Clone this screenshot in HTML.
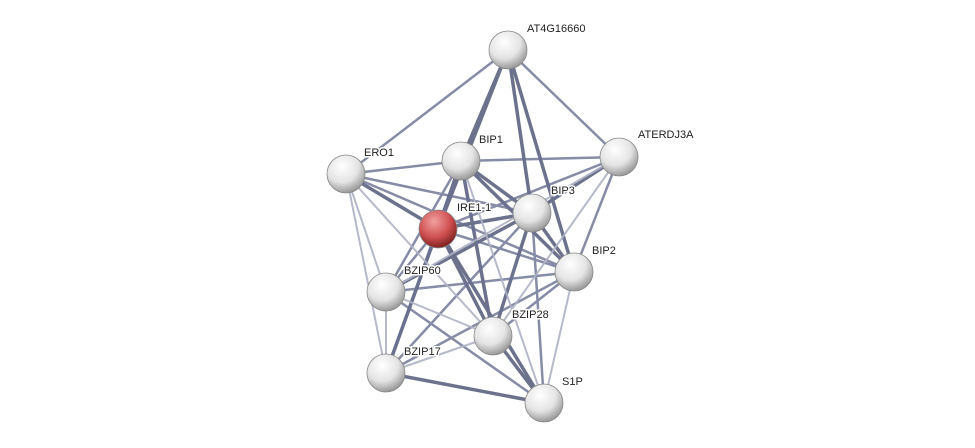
<!DOCTYPE html>
<html><head><meta charset="utf-8"><style>
html,body{margin:0;padding:0;background:#fff;width:975px;height:448px;overflow:hidden}
text{font-family:"Liberation Sans",sans-serif;font-size:11px;fill:#222;stroke:#fff;stroke-width:3px;paint-order:stroke;stroke-linejoin:round}
</style></head><body>
<svg width="975" height="448" xmlns="http://www.w3.org/2000/svg">
<defs>
<radialGradient id="g" cx="40%" cy="30%" r="70%">
<stop offset="0" stop-color="#ffffff"/><stop offset="0.6" stop-color="#e4e4e4"/><stop offset="1" stop-color="#9a9a9a"/>
</radialGradient>
<radialGradient id="r" cx="40%" cy="30%" r="70%">
<stop offset="0" stop-color="#f0a0a0"/><stop offset="0.6" stop-color="#d05050"/><stop offset="1" stop-color="#802020"/>
</radialGradient>
</defs>
<g stroke-linecap="round">
<g stroke="#5d6380" stroke-width="3.5" opacity="0.9">
<line x1="508" y1="50" x2="461" y2="161"/><line x1="508" y1="50" x2="438" y2="229"/><line x1="508" y1="50" x2="532" y2="213"/><line x1="508" y1="50" x2="574" y2="272"/>
<line x1="461" y1="161" x2="438" y2="229"/><line x1="461" y1="161" x2="532" y2="213"/><line x1="461" y1="161" x2="574" y2="272"/>
<line x1="532" y1="213" x2="438" y2="229"/><line x1="532" y1="213" x2="574" y2="272"/><line x1="438" y1="229" x2="386" y2="373"/>
<line x1="438" y1="229" x2="544" y2="403"/><line x1="438" y1="229" x2="493" y2="336"/><line x1="532" y1="213" x2="493" y2="336"/>
<line x1="346" y1="174" x2="438" y2="229"/><line x1="619" y1="157" x2="532" y2="213"/><line x1="386" y1="373" x2="544" y2="403"/>
<line x1="493" y1="336" x2="544" y2="403"/><line x1="532" y1="213" x2="386" y2="292"/><line x1="461" y1="161" x2="493" y2="336"/>
</g>
<g stroke="#6a7090" stroke-width="2.5" opacity="0.8">
<line x1="508" y1="50" x2="346" y2="174"/><line x1="508" y1="50" x2="619" y2="157"/><line x1="619" y1="157" x2="461" y2="161"/>
<line x1="619" y1="157" x2="438" y2="229"/><line x1="619" y1="157" x2="574" y2="272"/><line x1="346" y1="174" x2="461" y2="161"/>
<line x1="346" y1="174" x2="532" y2="213"/><line x1="346" y1="174" x2="574" y2="272"/><line x1="438" y1="229" x2="574" y2="272"/>
<line x1="438" y1="229" x2="386" y2="292"/><line x1="461" y1="161" x2="386" y2="292"/><line x1="532" y1="213" x2="386" y2="373"/>
<line x1="386" y1="292" x2="544" y2="403"/><line x1="386" y1="292" x2="574" y2="272"/><line x1="574" y1="272" x2="493" y2="336"/>
<line x1="461" y1="161" x2="386" y2="373"/><line x1="532" y1="213" x2="544" y2="403"/><line x1="386" y1="373" x2="574" y2="272"/>
</g>
<g stroke="#aeb2c4" stroke-width="2" opacity="0.9">
<line x1="346" y1="174" x2="386" y2="292"/><line x1="346" y1="174" x2="386" y2="373"/><line x1="619" y1="157" x2="386" y2="292"/>
<line x1="619" y1="157" x2="493" y2="336"/><line x1="574" y1="272" x2="544" y2="403"/><line x1="386" y1="292" x2="493" y2="336"/>
<line x1="386" y1="292" x2="386" y2="373"/><line x1="493" y1="336" x2="386" y2="373"/><line x1="346" y1="174" x2="493" y2="336"/>
<line x1="461" y1="161" x2="544" y2="403"/>
</g>
</g>
<g stroke="#888" stroke-width="0.8">
<circle cx="508" cy="50" r="19" fill="url(#g)"/>
<circle cx="619" cy="157" r="19" fill="url(#g)"/>
<circle cx="346" cy="174" r="19" fill="url(#g)"/>
<circle cx="461" cy="161" r="19" fill="url(#g)"/>
<circle cx="532" cy="213" r="19" fill="url(#g)"/>
<circle cx="438" cy="229" r="19" fill="url(#r)"/>
<circle cx="574" cy="272" r="19" fill="url(#g)"/>
<circle cx="386" cy="292" r="19" fill="url(#g)"/>
<circle cx="493" cy="336" r="19" fill="url(#g)"/>
<circle cx="386" cy="373" r="19" fill="url(#g)"/>
<circle cx="544" cy="403" r="19" fill="url(#g)"/>
</g>
<text x="527" y="32">AT4G16660</text>
<text x="638" y="138">ATERDJ3A</text>
<text x="364" y="156">ERO1</text>
<text x="479" y="143">BIP1</text>
<text x="551" y="194">BIP3</text>
<text x="457" y="211">IRE1-1</text>
<text x="592" y="254">BIP2</text>
<text x="404" y="274">BZIP60</text>
<text x="512" y="318">BZIP28</text>
<text x="404" y="355">BZIP17</text>
<text x="562" y="385">S1P</text>
</svg>
</body></html>
